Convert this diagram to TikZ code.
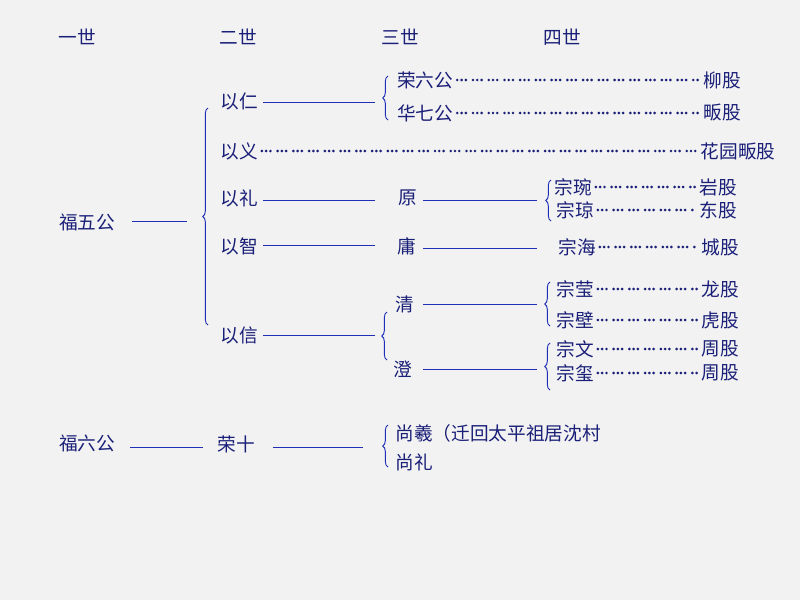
\documentclass[tikz,border=0pt]{standalone}
\usepackage{fontspec}
\setmainfont{Noto Sans CJK SC}
\usetikzlibrary{decorations.pathreplacing}
\definecolor{ink}{HTML}{1A1F78}
\definecolor{wire}{HTML}{1F2FB8}
\tikzset{
  person/.style={text=ink, font=\fontsize{14}{14}\selectfont, inner sep=1pt},
  link/.style={draw=wire, line width=0.7pt},
  dots/.style={draw=ink, line width=2.2pt, line cap=round, shorten <=2pt, shorten >=2pt,
    dash pattern=on 0pt off 3.2pt on 0pt off 3.2pt on 0pt off 5.4pt},
  curly/.style={draw=wire, line width=0.7pt, decorate,
    decoration={brace, mirror, amplitude=4pt}}
}
\begin{document}
\begin{tikzpicture}[x=0.75pt, y=-0.75pt]
\useasboundingbox[fill=gray!10] (0,0) rectangle (800,600);
% headers
\node[person] at (77,37) {一世};
\node[person] at (238,37) {二世};
\node[person] at (400,37) {三世};
\node[person] at (562,37) {四世};
% first branch
\node[person] (fu5) at (87,222) {福五公};
\node[person] (yiren) at (239,101) {以仁};
\node[person] (yiyi) at (239,151) {以义};
\node[person] (yili) at (239,198) {以礼};
\node[person] (yizhi) at (239,246) {以智};
\node[person] (yixin) at (239,335) {以信};
\draw[link] (132,221) -- (187,221);
\draw[curly] (208,108) -- (208,325);
% 以仁
\node[person] (rong6) at (425,80) {荣六公};
\node[person] (hua7) at (425,113) {华七公};
\node[person] (liu) at (722,80) {柳股};
\node[person] (fan) at (722,113) {畈股};
\draw[link] (263,102) -- (375,102);
\draw[curly] (388,76) -- (388,120);
\draw[dots] (rong6.east) -- (liu.west);
\draw[dots] (hua7.east) -- (fan.west);
% 以义
\node[person] (huayuan) at (738,151) {花园畈股};
\draw[dots] (yiyi.east) -- (huayuan.west);
% 以礼
\node[person] (yuan) at (408,198) {原};
\node[person] (zwan) at (573,187) {宗琬};
\node[person] (zqiong) at (575,210) {宗琼};
\node[person] (yan) at (718,187) {岩股};
\node[person] (dong) at (718,210) {东股};
\draw[link] (263,200) -- (375,200);
\draw[link] (423,200) -- (537,200);
\draw[curly] (551,180) -- (551,221);
\draw[dots] (zwan.east) -- (yan.west);
\draw[dots] (zqiong.east) -- (dong.west);
% 以智
\node[person] (yong) at (407,246) {庸};
\node[person] (zhai) at (577,247) {宗海};
\node[person] (cheng) at (720,247) {城股};
\draw[link] (263,245) -- (375,245);
\draw[link] (423,248) -- (537,248);
\draw[dots] (zhai.east) -- (cheng.west);
% 以信
\node[person] (qing) at (405,304) {清};
\node[person] (deng) at (403,369) {澄};
\draw[link] (263,335) -- (375,335);
\draw[curly] (387,312) -- (387,360);
\draw[link] (423,304) -- (537,304);
\draw[link] (423,369) -- (537,369);
\node[person] (zying) at (575,289) {宗莹};
\node[person] (zbi) at (575,320) {宗壁};
\node[person] (zwen) at (575,349) {宗文};
\node[person] (zxi) at (575,373) {宗玺};
\node[person] (long) at (720,289) {龙股};
\node[person] (hu) at (720,320) {虎股};
\node[person] (zhou1) at (720,349) {周股};
\node[person] (zhou2) at (720,373) {周股};
\draw[curly] (550,282) -- (550,326);
\draw[curly] (550,343) -- (550,390);
\draw[dots] (zying.east) -- (long.west);
\draw[dots] (zbi.east) -- (hu.west);
\draw[dots] (zwen.east) -- (zhou1.west);
\draw[dots] (zxi.east) -- (zhou2.west);
% second branch
\node[person] (fu6) at (87,443) {福六公};
\node[person] (rong10) at (236,444) {荣十};
\node[person, anchor=west] (shangxi) at (394,433) {尚羲（迁回太平祖居沈村};
\node[person, anchor=west] (shangli) at (394,462) {尚礼};
\draw[link] (130,447) -- (203,447);
\draw[link] (273,447) -- (363,447);
\draw[curly] (388,425) -- (388,467);
\end{tikzpicture}
\end{document}
